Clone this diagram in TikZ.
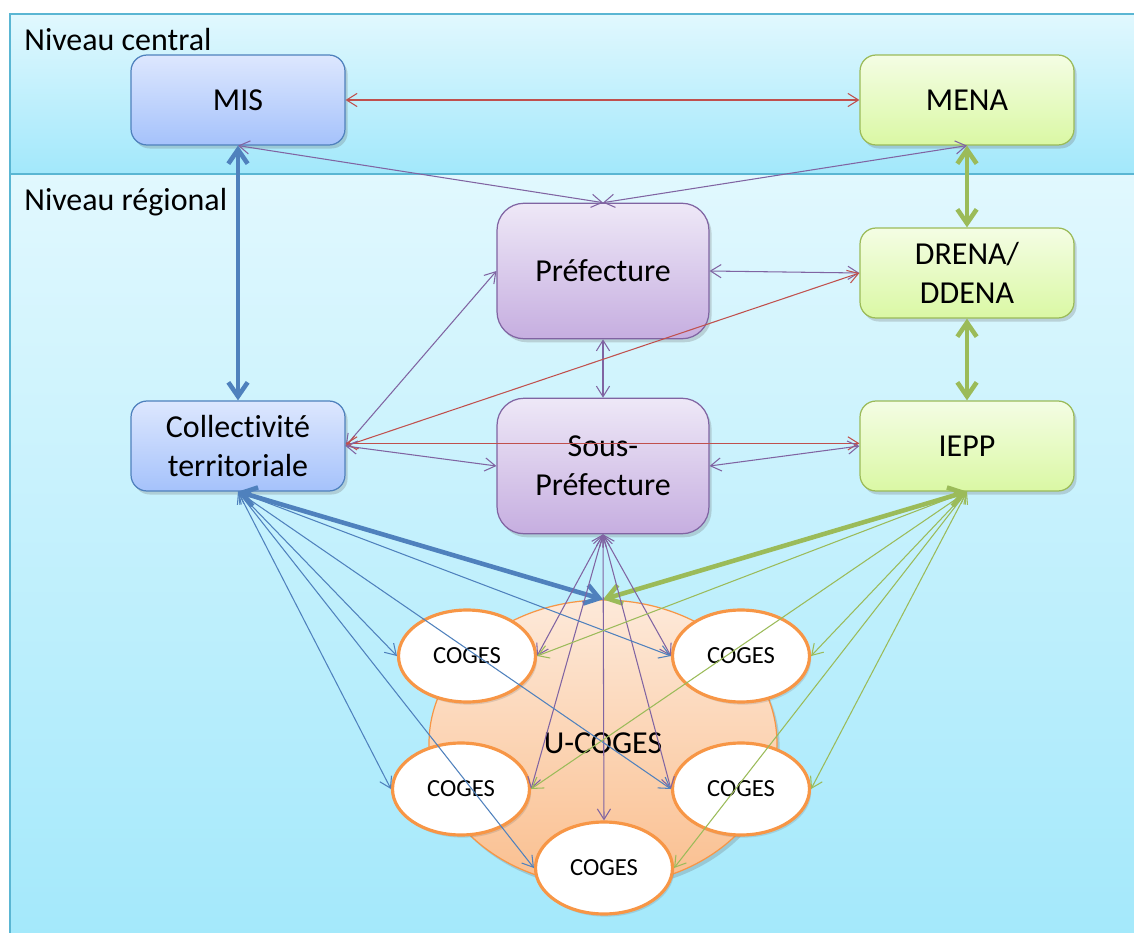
\documentclass[tikz,border=0pt]{standalone}
\usepackage{fontspec}
\setmainfont{Carlito}[Ligatures=NoCommon]
\usetikzlibrary{arrows.meta,shapes.geometric,shadows}
\definecolor{cred}{HTML}{C0504D}
\definecolor{cpurple}{HTML}{8064A2}
\definecolor{cblue}{HTML}{4F81BD}
\definecolor{cgreen}{HTML}{9BBB59}
\definecolor{corange}{HTML}{F79646}
\definecolor{bgtop}{HTML}{E1F8FE}
\definecolor{bgbot}{HTML}{A2E8FB}
\definecolor{panelborder}{HTML}{5AB6D3}
\definecolor{bluetop}{HTML}{DDE7FE}
\definecolor{bluebot}{HTML}{A5C2FB}
\definecolor{greentop}{HTML}{F4FDE4}
\definecolor{greenbot}{HTML}{DAF8A4}
\definecolor{purptop}{HTML}{EEE8F7}
\definecolor{purpbot}{HTML}{C6AEE0}
\definecolor{orgtop}{HTML}{FDE9D9}
\definecolor{orgbot}{HTML}{FABF8F}
\tikzset{
  boxshadow/.style={drop shadow={shadow xshift=1.5pt,shadow yshift=-2pt,opacity=.25,fill=black!60}},
  smallbox/.style={rectangle, rounded corners=0.32cm, minimum width=4.28cm, minimum height=1.8cm, inner sep=0pt, line width=0.7pt, boxshadow},
  bigbox/.style={rectangle, rounded corners=0.54cm, minimum width=4.24cm, minimum height=2.71cm, inner sep=0pt, line width=0.7pt, boxshadow},
  bluebox/.style={smallbox, draw=cblue, top color=bluetop, bottom color=bluebot},
  greenbox/.style={smallbox, draw=cgreen, top color=greentop, bottom color=greenbot},
  purpbox/.style={bigbox, draw=cpurple, top color=purptop, bottom color=purpbot},
  ucogesnode/.style={ellipse, minimum width=6.96cm, minimum height=5.72cm, inner sep=0pt, draw=corange, line width=0.7pt, top color=orgtop, bottom color=orgbot, boxshadow},
  cogesnode/.style={ellipse, minimum width=2.74cm, minimum height=1.84cm, inner sep=0pt, draw=corange, line width=1.8pt, fill=white, font=\fontsize{14}{17}\selectfont, drop shadow={shadow xshift=1pt,shadow yshift=-1.5pt,opacity=.2,fill=black!60}},
  levellabel/.style={anchor=base west, inner sep=0pt},
  thinarr/.style={line width=0.6pt, {Straight Barb[length=6pt,width=7.5pt]}-{Straight Barb[length=6pt,width=7.5pt]}},
  thickarr/.style={line width=2.6pt, {Straight Barb[length=8pt,width=11pt]}-{Straight Barb[length=8pt,width=11pt]}},
}
\begin{document}
\begin{tikzpicture}[x=0.02cm,y=-0.02cm,font=\fontsize{18.2}{22}\selectfont]
\fill[white] (0,0) rectangle (1134,933);
\useasboundingbox (0,0) rectangle (1134,933);
% background panels
\shadedraw[top color=bgtop,bottom color=bgbot,draw=panelborder,line width=0.8pt] (10,14) rectangle (1150,174);
\shadedraw[top color=bgtop,bottom color=bgbot,draw=panelborder,line width=0.8pt] (10,174) rectangle (1150,960);
\node[levellabel] (lc) at (24,51) {Niveau central};
\node[levellabel] (lr) at (24,210) {Niveau régional};
% boxes
\node[bluebox] (mis) at (238,100) {MIS};
\node[greenbox] (mena) at (967,100) {MENA};
\node[purpbox] (pref) at (603,271) {Préfecture};
\node[greenbox, align=center] (drena) at (967,273) {DRENA/\\DDENA};
\node[bluebox, align=center] (coll) at (238,446) {Collectivité\\territoriale};
\node[purpbox, align=center] (sous) at (603,466) {Sous-\\Préfecture};
\node[greenbox] (iepp) at (967,446) {IEPP};
% U-COGES and COGES
\node[ucogesnode] (ucoges) at (603,743) {U-COGES};
\node[cogesnode] (c1) at (467,656) {COGES};
\node[cogesnode] (c2) at (741,656) {COGES};
\node[cogesnode] (c3) at (461,789) {COGES};
\node[cogesnode] (c4) at (741,789) {COGES};
\node[cogesnode] (c5) at (604,868) {COGES};
% connectors
\draw[thinarr, cred] (mis.east) -- (mena.west);
\draw[thinarr, cpurple] (mis.south) -- (pref.north);
\draw[thinarr, cpurple] (mena.south) -- (pref.north);
\draw[thickarr, cblue] (mis.south) -- (coll.north);
\draw[thickarr, cgreen] (mena.south) -- (drena.north);
\draw[thickarr, cgreen] (drena.south) -- (iepp.north);
\draw[thinarr, cpurple] (pref.east) -- (drena.west);
\draw[thinarr, cpurple] (pref.south) -- (sous.north);
\draw[thinarr, cpurple] (coll.east) -- (pref.west);
\draw[thinarr, cred] (coll.east) -- (drena.west);
\draw[thinarr, cred] ([yshift=1.5pt]coll.east) -- ([yshift=1.5pt]iepp.west);
\draw[thinarr, cpurple] (coll.east) -- (sous.west);
\draw[thinarr, cpurple] (sous.east) -- (iepp.west);
% to U-COGES
\draw[thickarr, cblue] (coll.south) -- (ucoges.north);
\draw[thickarr, cgreen] (iepp.south) -- (ucoges.north);
% Sous-Prefecture to COGES
\draw[thinarr, cpurple] (sous.south) -- (c1.east);
\draw[thinarr, cpurple] (sous.south) -- (c2.west);
\draw[thinarr, cpurple] (sous.south) -- (c3.east);
\draw[thinarr, cpurple] (sous.south) -- (c4.west);
\draw[thinarr, cpurple] (sous.south) -- (c5.north);
% Collectivite to COGES
\draw[thinarr, cblue] (coll.south) -- (c1.west);
\draw[thinarr, cblue] (coll.south) -- (c2.west);
\draw[thinarr, cblue] (coll.south) -- (c3.west);
\draw[thinarr, cblue] (coll.south) -- (c4.west);
\draw[thinarr, cblue] (coll.south) -- (c5.west);
% IEPP to COGES
\draw[thinarr, cgreen] (iepp.south) -- (c1.east);
\draw[thinarr, cgreen] (iepp.south) -- (c2.east);
\draw[thinarr, cgreen] (iepp.south) -- (c3.east);
\draw[thinarr, cgreen] (iepp.south) -- (c4.east);
\draw[thinarr, cgreen] (iepp.south) -- (c5.east);
\end{tikzpicture}
\end{document}
